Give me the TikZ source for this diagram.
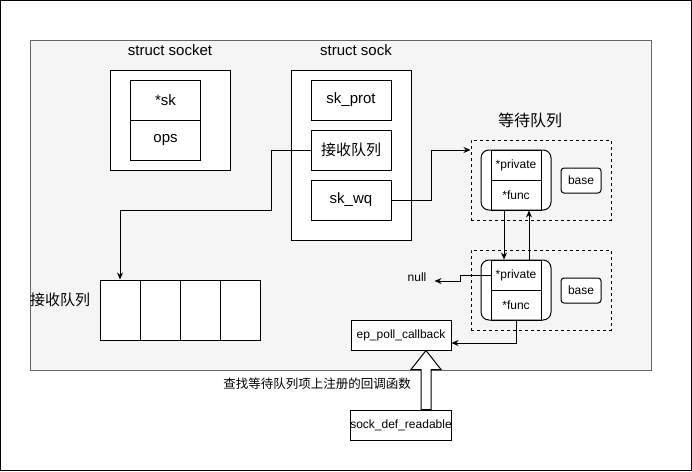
\documentclass[tikz,border=0pt]{standalone}
\usepackage{fontspec}
\setmainfont{Liberation Sans}
\newfontfamily\cjk{Noto Sans CJK SC}
\usetikzlibrary{arrows.meta}
\definecolor{panelgray}{HTML}{F5F5F5}
\definecolor{panelline}{HTML}{666666}
\tikzset{
    struct-box/.style = {draw, fill=white, line width=1pt, minimum width=120pt},
    field-box/.style = {draw, fill=white, line width=1pt, minimum width=80pt, minimum height=40pt, font=\fontsize{15}{18}\selectfont},
    small-field/.style = {field-box, minimum width=70pt},
    struct-title/.style = {font=\fontsize{15}{18}\selectfont},
    wait-box/.style = {draw, dashed, line width=1pt, minimum width=140pt, minimum height=80pt},
    entry-box/.style = {draw, fill=white, line width=1pt, rounded corners=8pt, minimum width=70pt, minimum height=60pt},
    entry-field/.style = {draw, line width=1pt, minimum width=50pt, minimum height=30pt, font=\fontsize{12}{14}\selectfont},
    base-box/.style = {draw, fill=white, line width=1pt, rounded corners=3pt, minimum width=40pt, minimum height=25pt, font=\fontsize{12}{14}\selectfont},
    func-box/.style = {draw, fill=white, line width=1pt, minimum width=100pt, minimum height=30pt, inner sep=0pt, font=\fontsize{12}{14}\selectfont},
    queue-cell/.style = {draw, fill=white, line width=1pt, minimum width=40pt, minimum height=60pt},
    link/.style = {line width=1pt, -{Stealth[length=7pt,width=6pt]}},
}

\begin{document}
\begin{tikzpicture}[x=1pt, y=-1pt]
\useasboundingbox (0,0) rectangle (692,471);
\draw[line width=1pt] (0.5,0.5) rectangle (691.5,470.5);
\draw[fill=panelgray, draw=panelline, line width=1pt] (30,40) rectangle (651,370);

% struct socket
\node[struct-title] (sockettitle) at (170,50) {struct socket};
\node[struct-box, minimum height=100pt] (socket) at (170.5,120) {};
\node[small-field] (sk) at (165.5,100) {*sk};
\node[small-field] (ops) at (165.5,140) {ops};

% struct sock
\node[struct-title] (socktitle) at (356,50) {struct sock};
\node[struct-box, minimum height=170pt] (sock) at (351,155) {};
\node[field-box] (skprot) at (351,100) {sk\_prot};
\node[field-box] (recv) at (351,150) {\cjk 接收队列};
\node[field-box] (skwq) at (351,200) {sk\_wq};

% receive queue
\node[struct-title] (recvtitle) at (60,300) {\cjk 接收队列};
\node[queue-cell] (q1) at (120,310) {};
\node[queue-cell] (q2) at (160,310) {};
\node[queue-cell] (q3) at (200,310) {};
\node[queue-cell] (q4) at (240,310) {};

% wait queue
\node[font=\fontsize{16}{19}\selectfont] (waittitle) at (530,120) {\cjk 等待队列};
\node[wait-box] (wait1) at (541,180) {};
\node[entry-box] (wqa) at (516,180) {};
\node[entry-field] (priva) at (516,165) {*private};
\node[entry-field] (funca) at (516,195) {*func};
\node[base-box] (basea) at (581,180.5) {base};

\node[wait-box] (wait2) at (541,290) {};
\node[entry-box] (wqb) at (516,290) {};
\node[entry-field] (privb) at (516,275) {*private};
\node[entry-field] (funcb) at (516,305) {*func};
\node[base-box] (baseb) at (581,290.5) {base};

\node[font=\fontsize{12}{14}\selectfont, inner xsep=8pt] (null) at (417,277) {null};

% callbacks
\node[func-box] (ep) at (401,335) {ep\_poll\_callback};
\node[func-box] (sdr) at (401,425) {sock\_def\_readable};
\node[font=\fontsize{12.5}{15}\selectfont, anchor=east, inner sep=1pt] (lookup) at (412,384) {\cjk 查找等待队列项上注册的回调函数};

% links
\draw[link] (recv.west) -- ++(-39,0) -- ++(0,60) -| (q1.north);
\draw[link] (skwq.east) -- ++(40,0) |- ([yshift=30pt]wait1.west);
\draw[link] ([xshift=-12pt]wqa.south) -- ([xshift=-12pt]wqb.north);
\draw[link] ([xshift=13pt]wqb.north) -- ([xshift=13pt]wqa.south);
\draw[link] (privb.west) -- ++(-30,0) |- ([yshift=-4pt]null.east);
\draw[link] (funcb.south) |- ([yshift=-8pt]ep.east);
\draw[line width=1pt, fill=white] ([xshift=20pt]sdr.north) -- ([xshift=20pt,yshift=40pt]sdr.north)
    -- ([xshift=10pt,yshift=40pt]sdr.north) -- ([xshift=25pt]ep.south)
    -- ([xshift=40pt,yshift=40pt]sdr.north) -- ([xshift=30pt,yshift=40pt]sdr.north)
    -- ([xshift=30pt]sdr.north) -- cycle;
\end{tikzpicture}
\end{document}
